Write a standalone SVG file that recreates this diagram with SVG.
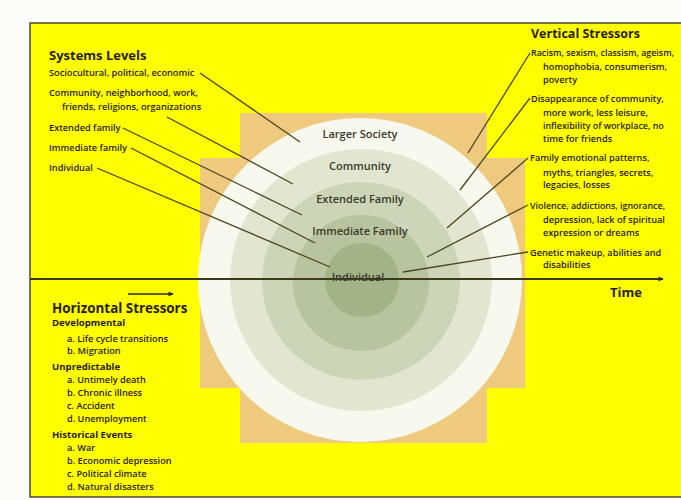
<svg xmlns="http://www.w3.org/2000/svg" width="681" height="500" viewBox="0 0 681 500">
<defs>
<style>
text{font-family:"Open Sans","Liberation Sans",sans-serif;fill:#2a2100;}
.t{font-size:9.2px;font-weight:600;}
.h{font-size:13px;font-weight:700;}
.s{font-size:9.6px;font-weight:700;}
.c{font-size:11px;font-weight:600;fill:#3a3a2a;text-anchor:middle;}
.ln{stroke:#4a4620;stroke-width:1.3;fill:none;}
</style>
<marker id="ah" viewBox="0 0 10 10" refX="9" refY="5" markerWidth="6" markerHeight="5" orient="auto" markerUnits="userSpaceOnUse">
<path d="M0,0L10,5L0,10z" fill="#2a2a10"/>
</marker>
</defs>
<rect width="681" height="500" fill="#fbfbf8"/>
<rect x="30" y="23" width="660" height="474" fill="#fefe00" stroke="#4a4a3a" stroke-width="1.5"/>

<g id="backdrop">
<path d="M240,113H487V158H525V388H487V443H240V388H200V158H240Z" fill="#efc97e"/>
</g>

<g id="rings">
<circle cx="360" cy="280" r="162" fill="#f7f8ee"/>
<circle cx="361" cy="280" r="131" fill="#e2e6d1"/>
<circle cx="361" cy="281" r="99" fill="#cdd5b9"/>
<circle cx="361" cy="283" r="68" fill="#b8c49f"/>
<circle cx="362" cy="280" r="37" fill="#a3b388"/>
</g>

<g id="connectors">
<line class="ln" x1="200" y1="73" x2="300" y2="142"/>
<line class="ln" x1="167" y1="117" x2="293" y2="184"/>
<line class="ln" x1="123" y1="128" x2="302" y2="215"/>
<line class="ln" x1="131" y1="148" x2="315" y2="243"/>
<line class="ln" x1="97" y1="168" x2="330" y2="267"/>
<line class="ln" x1="530" y1="53" x2="468" y2="153"/>
<line class="ln" x1="530" y1="98" x2="460" y2="190"/>
<line class="ln" x1="528" y1="158" x2="447" y2="228"/>
<line class="ln" x1="528" y1="205" x2="427" y2="257"/>
<line class="ln" x1="528" y1="252" x2="403" y2="272"/>
<line x1="30" y1="279" x2="663" y2="279" stroke="#3a3a18" stroke-width="2" marker-end="url(#ah)"/>
<line x1="128" y1="294" x2="173" y2="294" stroke="#2a2a10" stroke-width="1.5" marker-end="url(#ah)"/>
</g>

<g id="ring-labels">
<text class="c" x="360" y="138">Larger Society</text>
<text class="c" x="360" y="170">Community</text>
<text class="c" x="360" y="203">Extended Family</text>
<text class="c" x="360" y="235">Immediate Family</text>
<text class="c" x="358" y="281">Individual</text>
</g>

<g id="systems-levels">
<text class="h" x="49" y="60">Systems Levels</text>
<text class="t" x="49" y="76">Sociocultural, political, economic</text>
<text class="t" x="49" y="96">Community, neighborhood, work,</text>
<text class="t" x="62" y="110">friends, religions, organizations</text>
<text class="t" x="49" y="131">Extended family</text>
<text class="t" x="49" y="151">Immediate family</text>
<text class="t" x="49" y="171">Individual</text>
</g>

<g id="vertical-stressors">
<text class="h" x="531" y="38" style="font-size:12.5px">Vertical Stressors</text>
<text class="t" x="531" y="56" style="font-size:8.9px">Racism, sexism, classism, ageism,</text>
<text class="t" x="543" y="70">homophobia, consumerism,</text>
<text class="t" x="543" y="83">poverty</text>
<text class="t" x="531" y="102">Disappearance of community,</text>
<text class="t" x="543" y="116">more work, less leisure,</text>
<text class="t" x="543" y="129" style="font-size:8.9px">inflexibility of workplace, no</text>
<text class="t" x="543" y="142">time for friends</text>
<text class="t" x="530" y="161">Family emotional patterns,</text>
<text class="t" x="543" y="176">myths, triangles, secrets,</text>
<text class="t" x="543" y="188">legacies, losses</text>
<text class="t" x="530" y="209" style="font-size:8.9px">Violence, addictions, ignorance,</text>
<text class="t" x="543" y="223">depression, lack of spiritual</text>
<text class="t" x="543" y="236">expression or dreams</text>
<text class="t" x="530" y="256">Genetic makeup, abilities and</text>
<text class="t" x="543" y="268">disabilities</text>
</g>

<g id="time-label">
<text class="h" x="610" y="297">Time</text>
</g>

<g id="horizontal-stressors">
<text class="h" x="52" y="313" style="font-size:13.4px">Horizontal Stressors</text>
<text class="s" x="52" y="326">Developmental</text>
<text class="t" x="67" y="342">a. Life cycle transitions</text>
<text class="t" x="67" y="354">b. Migration</text>
<text class="s" x="52" y="370">Unpredictable</text>
<text class="t" x="67" y="383">a. Untimely death</text>
<text class="t" x="67" y="396">b. Chronic illness</text>
<text class="t" x="67" y="409">c. Accident</text>
<text class="t" x="67" y="422">d. Unemployment</text>
<text class="s" x="52" y="438">Historical Events</text>
<text class="t" x="67" y="451">a. War</text>
<text class="t" x="67" y="464">b. Economic depression</text>
<text class="t" x="67" y="477">c. Political climate</text>
<text class="t" x="67" y="490">d. Natural disasters</text>
</g>
</svg>
